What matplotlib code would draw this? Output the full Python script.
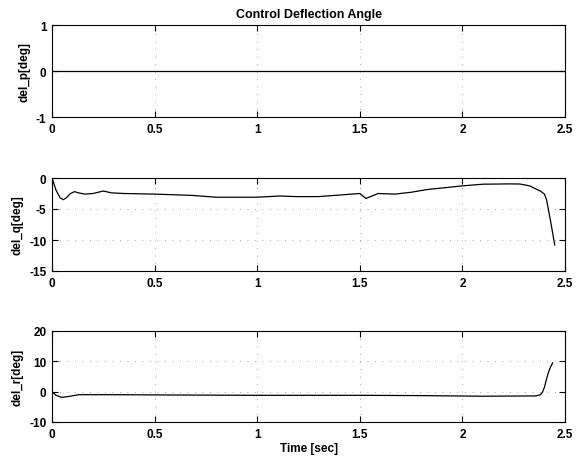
import matplotlib
matplotlib.use("Agg")
import matplotlib.pyplot as plt

# del_p: zero throughout
t_p = [0.0, 2.5]
del_p = [0.0, 0.0]

# del_q
t_q = [0.0, 0.02, 0.04, 0.055, 0.07, 0.09, 0.11, 0.13, 0.16, 0.2, 0.25, 0.29, 0.35,
       0.5, 0.68, 0.8, 1.0, 1.11, 1.19, 1.3, 1.46, 1.50, 1.53, 1.59, 1.67, 1.75,
       1.83, 1.92, 1.99, 2.10, 2.23, 2.28, 2.31, 2.33, 2.36, 2.38, 2.40, 2.41, 2.43, 2.45]
del_q = [0.0, -2.0, -3.2, -3.5, -3.2, -2.5, -2.2, -2.4, -2.6, -2.5, -2.1, -2.4, -2.5,
         -2.6, -2.8, -3.1, -3.1, -2.9, -3.0, -3.0, -2.6, -2.5, -3.3, -2.5, -2.6, -2.3,
         -1.85, -1.55, -1.3, -1.0, -0.95, -0.97, -1.15, -1.3, -1.8, -2.1, -2.6, -3.5, -7.0, -10.8]

# del_r
t_r = [0.0, 0.02, 0.047, 0.08, 0.13, 0.3, 0.6, 1.0, 1.5, 1.8, 2.1, 2.36, 2.38,
       2.39, 2.40, 2.41, 2.42, 2.43, 2.44]
del_r = [0.0, -1.2, -1.9, -1.6, -1.0, -1.0, -1.1, -1.2, -1.2, -1.3, -1.5, -1.4, -1.0,
         -0.2, 1.5, 4.2, 6.5, 8.2, 9.5]

ylabels = ["del_p[deg]", "del_q[deg]", "del_r[deg]"]
yticks = [[-1, 0, 1], [-15, -10, -5, 0], [-10, 0, 10, 20]]
ylims = [(-1, 1), (-15, 0), (-10, 20)]
xticks = [0, 0.5, 1, 1.5, 2, 2.5]
xticklabels = ["0", "0.5", "1", "1.5", "2", "2.5"]

plt.rcParams['font.family'] = ['Liberation Sans', 'DejaVu Sans']
plt.rcParams['axes.unicode_minus'] = False

fig = plt.figure(figsize=(5.82, 4.60), dpi=100)
W = 582.0
H = 460.0
boxes = [(26, 118), (179, 272), (332, 423)]
series = [(t_p, del_p), (t_q, del_q), (t_r, del_r)]

for i, ((top, bot), (tt, yy)) in enumerate(zip(boxes, series)):
    ax = fig.add_axes([52 / W, 1 - bot / H, 513 / W, (bot - top) / H])
    ax.plot(tt, yy, color='black', lw=0.9)
    ax.set_xlim(0, 2.5)
    ax.set_ylim(*ylims[i])
    ax.set_xticks(xticks)
    ax.set_xticklabels(xticklabels)
    ax.set_yticks(yticks[i])
    ax.set_yticklabels([str(v) for v in yticks[i]])
    ax.grid(True, color='#888888', linestyle=(0, (1, 8)), linewidth=0.6)
    ax.tick_params(direction='in', top=True, right=True, length=4, width=0.8,
                   labelsize=8.5, pad=4)
    for lab in ax.get_xticklabels() + ax.get_yticklabels():
        lab.set_fontweight('bold')
    for s in ax.spines.values():
        s.set_linewidth(0.8)
    ax.set_ylabel(ylabels[i], fontsize=8.5, fontweight='bold', labelpad=4)
    if i == 0:
        ax.set_title("Control Deflection Angle", fontsize=9, fontweight='bold', pad=6)
    if i == 2:
        ax.set_xlabel("Time [sec]", fontsize=8.5, fontweight='bold', labelpad=2)

fig.savefig("out.png", dpi=100)
